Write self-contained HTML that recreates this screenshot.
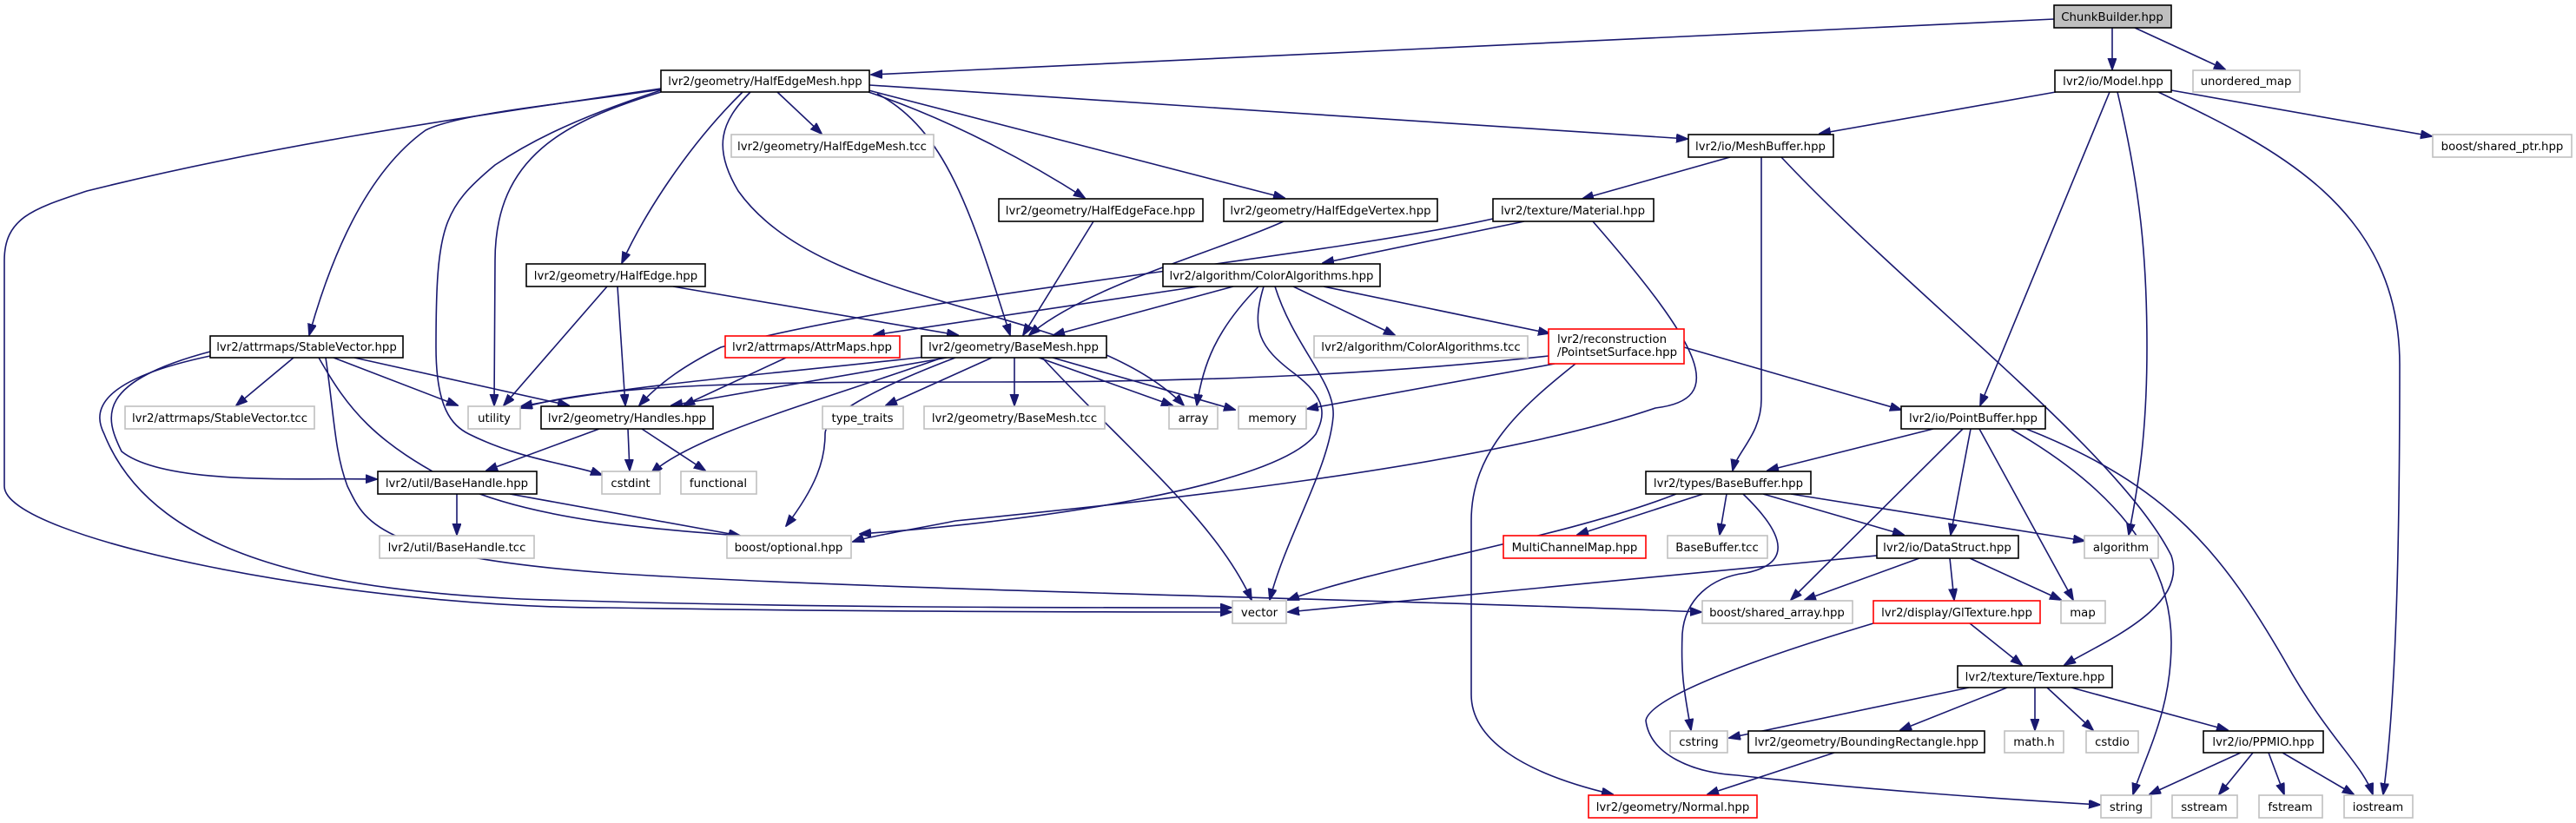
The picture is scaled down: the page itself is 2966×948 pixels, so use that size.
<!DOCTYPE html>
<html><head><meta charset="utf-8"><style>
html,body{margin:0;padding:0;background:#fff;}
svg{display:block;}
text{font-family:"DejaVu Sans","Liberation Sans",sans-serif;font-size:13.3px;fill:#000;}
.e{fill:none;stroke:#191970;stroke-width:1.6;}
.n{fill:#fff;stroke:#000;stroke-width:1.6;}
.g{fill:#fff;stroke:#bfbfbf;stroke-width:1.6;}
.r{fill:#fff;stroke:#ff0000;stroke-width:1.6;}
</style></head><body>
<svg width="2966" height="948" viewBox="0 0 2966 948" xmlns="http://www.w3.org/2000/svg">
<defs><marker id="a" markerUnits="userSpaceOnUse" markerWidth="14" markerHeight="11" refX="13" refY="5" orient="auto"><path d="M0,0 L14,5 L0,10 z" fill="#191970" stroke="#191970"/></marker></defs>
<g class="e" marker-end="url(#a)">
<path d="M2365,22 L1003,86"/>
<path d="M2432,32 L2432,80"/>
<path d="M2458,32 L2562,80"/>
<path d="M2367,106 L2095,154"/>
<path d="M2429,106 L2280,467"/>
<path d="M2438,106 C2465,220 2472,300 2472,400 C2472,500 2462,560 2451,616"/>
<path d="M2485,106 C2620,170 2763,240 2763,420 C2763,600 2760,800 2744,915"/>
<path d="M2500,104 L2800,157"/>
<path d="M1992,181 L1822,229"/>
<path d="M2028,181 C2028,300 2028,430 2028,460 C2028,500 2000,520 1995,542"/>
<path d="M2051,181 C2200,340 2440,520 2500,640 C2520,700 2420,740 2377,766"/>
<path d="M1001,98 L1943,160"/>
<path d="M895,106 L946,154"/>
<path d="M1000,106 C1100,140 1190,190 1249,228"/>
<path d="M1000,104 L1479,228"/>
<path d="M1010,108 C1090,150 1120,250 1163,386"/>
<path d="M864,106 C830,140 820,170 850,220 C950,360 1250,350 1363,467"/>
<path d="M855,106 C790,170 740,250 716,303"/>
<path d="M761,103 C650,120 530,130 490,150 C420,200 380,300 356,386"/>
<path d="M761,106 C650,140 570,180 570,300 L569,467"/>
<path d="M761,104 C650,140 600,170 570,190 C510,240 502,260 502,400 C502,470 520,490 540,500 C600,530 660,535 693,547"/>
<path d="M761,102 C500,140 300,170 100,220 C40,240 5,250 5,300 L5,560 C5,620 400,700 700,700 C1000,705 1300,705 1418,705"/>
<path d="M699,330 L580,467"/>
<path d="M711,330 L720,467"/>
<path d="M775,330 L1103,386"/>
<path d="M1259,255 L1178,386"/>
<path d="M1478,255 C1400,290 1250,330 1185,386"/>
<path d="M1719,252 C1500,300 1050,340 830,400 C790,420 760,440 736,467"/>
<path d="M1755,255 L1523,303"/>
<path d="M1834,255 C1960,400 1990,460 1906,470 C1700,540 1300,580 1100,600 C1050,610 1000,618 982,624"/>
<path d="M1380,330 L1006,386"/>
<path d="M1420,330 L1213,386"/>
<path d="M1449,330 C1400,380 1385,420 1378,467"/>
<path d="M1455,330 C1440,380 1450,400 1490,430 C1530,460 1525,480 1515,500 C1470,560 1200,600 990,615"/>
<path d="M1468,330 C1490,400 1538,440 1535,480 C1530,540 1480,620 1462,691"/>
<path d="M1489,330 L1606,386"/>
<path d="M1524,330 L1784,384"/>
<path d="M1783,410 C1600,430 1400,440 1150,440 C900,440 700,440 600,470"/>
<path d="M1790,419 L1505,471"/>
<path d="M1939,400 L2189,472"/>
<path d="M1814,419 C1750,470 1694,520 1694,600 L1694,800 C1694,850 1750,890 1857,915"/>
<path d="M1090,412 L773,467"/>
<path d="M1075,410 C900,430 750,440 600,468"/>
<path d="M1100,412 C1000,450 950,480 950,500 C950,530 940,560 905,606"/>
<path d="M1085,412 C950,460 800,500 750,545"/>
<path d="M1142,412 L1020,467"/>
<path d="M1168,412 L1168,467"/>
<path d="M1196,412 L1350,467"/>
<path d="M1212,412 L1422,472"/>
<path d="M1200,412 C1300,520 1400,600 1441,691"/>
<path d="M905,412 L787,467"/>
<path d="M338,412 L272,467"/>
<path d="M384,412 L527,467"/>
<path d="M408,412 L655,467"/>
<path d="M242,405 C110,440 120,480 140,520 C190,560 350,550 434,552"/>
<path d="M367,412 C400,470 430,510 530,560 C620,600 760,610 852,617"/>
<path d="M242,410 C100,440 110,480 120,500 C180,650 400,680 600,690 C900,700 1200,700 1418,700"/>
<path d="M375,412 C385,480 385,520 400,560 C420,600 430,640 700,660 C1000,680 1600,690 1959,705"/>
<path d="M690,494 L560,542"/>
<path d="M723,494 L725,542"/>
<path d="M739,494 L812,542"/>
<path d="M526,569 L526,616"/>
<path d="M587,569 L852,617"/>
<path d="M2226,494 L2035,542"/>
<path d="M2260,494 L2062,691"/>
<path d="M2269,494 L2246,616"/>
<path d="M2279,494 L2387,691"/>
<path d="M2315,494 C2430,560 2500,640 2500,740 C2500,820 2470,870 2456,915"/>
<path d="M2333,494 C2500,560 2560,640 2630,760 C2680,850 2720,880 2732,915"/>
<path d="M1988,569 L1980,616"/>
<path d="M1961,569 L1816,616"/>
<path d="M2030,569 L2192,616"/>
<path d="M2062,569 L2400,623"/>
<path d="M1930,569 C1800,620 1600,650 1483,691"/>
<path d="M2007,569 C2060,620 2060,650 2010,660 C1970,665 1940,690 1937,730 C1935,780 1940,800 1947,841"/>
<path d="M2161,640 L1483,705"/>
<path d="M2210,643 L2078,691"/>
<path d="M2245,643 L2250,691"/>
<path d="M2268,643 L2373,691"/>
<path d="M2268,718 L2328,766"/>
<path d="M2157,718 C2050,750 1900,800 1895,830 C1900,870 1950,890 2000,893 C2150,910 2300,920 2418,927"/>
<path d="M2267,792 L1991,850"/>
<path d="M2311,792 L2188,841"/>
<path d="M2343,792 L2343,841"/>
<path d="M2357,792 L2410,841"/>
<path d="M2385,792 L2565,841"/>
<path d="M2112,867 L1966,915"/>
<path d="M2580,867 L2475,915"/>
<path d="M2594,867 L2555,915"/>
<path d="M2612,867 L2630,915"/>
<path d="M2628,867 L2710,915"/>
</g>
<g>
<rect x="2365" y="6" width="135" height="26" fill="#bfbfbf" stroke="#000" stroke-width="1.6"/><text x="2432" y="24" text-anchor="middle">ChunkBuilder.hpp</text>
<rect class="n" x="2366" y="81" width="134" height="25"/><text x="2433" y="98" text-anchor="middle">lvr2/io/Model.hpp</text>
<rect class="g" x="2525" y="81" width="123" height="25"/><text x="2586" y="98" text-anchor="middle">unordered_map</text>
<rect class="n" x="761" y="81" width="240" height="25"/><text x="881" y="98" text-anchor="middle">lvr2/geometry/HalfEdgeMesh.hpp</text>
<rect class="g" x="842" y="155" width="233" height="26"/><text x="958" y="173" text-anchor="middle">lvr2/geometry/HalfEdgeMesh.tcc</text>
<rect class="n" x="1944" y="155" width="167" height="26"/><text x="2027" y="173" text-anchor="middle">lvr2/io/MeshBuffer.hpp</text>
<rect class="g" x="2801" y="155" width="160" height="26"/><text x="2881" y="173" text-anchor="middle">boost/shared_ptr.hpp</text>
<rect class="n" x="1150" y="229" width="235" height="26"/><text x="1267" y="247" text-anchor="middle">lvr2/geometry/HalfEdgeFace.hpp</text>
<rect class="n" x="1409" y="229" width="246" height="26"/><text x="1532" y="247" text-anchor="middle">lvr2/geometry/HalfEdgeVertex.hpp</text>
<rect class="n" x="1719" y="229" width="185" height="26"/><text x="1811" y="247" text-anchor="middle">lvr2/texture/Material.hpp</text>
<rect class="n" x="606" y="304" width="206" height="26"/><text x="709" y="322" text-anchor="middle">lvr2/geometry/HalfEdge.hpp</text>
<rect class="n" x="1339" y="304" width="250" height="26"/><text x="1464" y="322" text-anchor="middle">lvr2/algorithm/ColorAlgorithms.hpp</text>
<rect class="n" x="242" y="387" width="222" height="25"/><text x="353" y="404" text-anchor="middle">lvr2/attrmaps/StableVector.hpp</text>
<rect class="r" x="835" y="387" width="201" height="25"/><text x="935" y="404" text-anchor="middle">lvr2/attrmaps/AttrMaps.hpp</text>
<rect class="n" x="1061" y="387" width="213" height="25"/><text x="1167" y="404" text-anchor="middle">lvr2/geometry/BaseMesh.hpp</text>
<rect class="g" x="1513" y="387" width="246" height="25"/><text x="1636" y="404" text-anchor="middle">lvr2/algorithm/ColorAlgorithms.tcc</text>
<rect class="r" x="1783" y="379" width="156" height="40"/><text x="1793" y="395">lvr2/reconstruction</text><text x="1793" y="410">/PointsetSurface.hpp</text>
<rect class="n" x="2189" y="468" width="166" height="26"/><text x="2272" y="486" text-anchor="middle">lvr2/io/PointBuffer.hpp</text>
<rect class="g" x="144" y="468" width="218" height="26"/><text x="253" y="486" text-anchor="middle">lvr2/attrmaps/StableVector.tcc</text>
<rect class="g" x="539" y="468" width="60" height="26"/><text x="569" y="486" text-anchor="middle">utility</text>
<rect class="n" x="623" y="468" width="198" height="26"/><text x="722" y="486" text-anchor="middle">lvr2/geometry/Handles.hpp</text>
<rect class="g" x="947" y="468" width="93" height="26"/><text x="993" y="486" text-anchor="middle">type_traits</text>
<rect class="g" x="1064" y="468" width="208" height="26"/><text x="1168" y="486" text-anchor="middle">lvr2/geometry/BaseMesh.tcc</text>
<rect class="g" x="1346" y="468" width="56" height="26"/><text x="1374" y="486" text-anchor="middle">array</text>
<rect class="g" x="1426" y="468" width="78" height="26"/><text x="1465" y="486" text-anchor="middle">memory</text>
<rect class="n" x="435" y="543" width="183" height="26"/><text x="526" y="561" text-anchor="middle">lvr2/util/BaseHandle.hpp</text>
<rect class="g" x="693" y="543" width="67" height="26"/><text x="726" y="561" text-anchor="middle">cstdint</text>
<rect class="g" x="784" y="543" width="87" height="26"/><text x="827" y="561" text-anchor="middle">functional</text>
<rect class="n" x="1895" y="543" width="190" height="26"/><text x="1990" y="561" text-anchor="middle">lvr2/types/BaseBuffer.hpp</text>
<rect class="n" x="2161" y="617" width="163" height="26"/><text x="2242" y="635" text-anchor="middle">lvr2/io/DataStruct.hpp</text>
<rect class="g" x="2400" y="617" width="85" height="26"/><text x="2442" y="635" text-anchor="middle">algorithm</text>
<rect class="g" x="1920" y="617" width="115" height="26"/><text x="1977" y="635" text-anchor="middle">BaseBuffer.tcc</text>
<rect class="r" x="1731" y="617" width="164" height="26"/><text x="1813" y="635" text-anchor="middle">MultiChannelMap.hpp</text>
<rect class="g" x="437" y="617" width="178" height="26"/><text x="526" y="635" text-anchor="middle">lvr2/util/BaseHandle.tcc</text>
<rect class="g" x="837" y="617" width="143" height="26"/><text x="908" y="635" text-anchor="middle">boost/optional.hpp</text>
<rect class="g" x="1419" y="692" width="62" height="26"/><text x="1450" y="710" text-anchor="middle">vector</text>
<rect class="g" x="1960" y="692" width="173" height="26"/><text x="2046" y="710" text-anchor="middle">boost/shared_array.hpp</text>
<rect class="r" x="2157" y="692" width="192" height="26"/><text x="2253" y="710" text-anchor="middle">lvr2/display/GlTexture.hpp</text>
<rect class="g" x="2373" y="692" width="51" height="26"/><text x="2398" y="710" text-anchor="middle">map</text>
<rect class="n" x="2254" y="767" width="178" height="25"/><text x="2343" y="784" text-anchor="middle">lvr2/texture/Texture.hpp</text>
<rect class="g" x="1923" y="842" width="66" height="25"/><text x="1956" y="859" text-anchor="middle">cstring</text>
<rect class="n" x="2013" y="842" width="272" height="25"/><text x="2149" y="859" text-anchor="middle">lvr2/geometry/BoundingRectangle.hpp</text>
<rect class="g" x="2308" y="842" width="68" height="25"/><text x="2342" y="859" text-anchor="middle">math.h</text>
<rect class="g" x="2402" y="842" width="60" height="25"/><text x="2432" y="859" text-anchor="middle">cstdio</text>
<rect class="n" x="2537" y="842" width="138" height="25"/><text x="2606" y="859" text-anchor="middle">lvr2/io/PPMIO.hpp</text>
<rect class="r" x="1829" y="916" width="194" height="26"/><text x="1926" y="934" text-anchor="middle">lvr2/geometry/Normal.hpp</text>
<rect class="g" x="2419" y="916" width="58" height="26"/><text x="2448" y="934" text-anchor="middle">string</text>
<rect class="g" x="2501" y="916" width="75" height="26"/><text x="2538" y="934" text-anchor="middle">sstream</text>
<rect class="g" x="2601" y="916" width="73" height="26"/><text x="2637" y="934" text-anchor="middle">fstream</text>
<rect class="g" x="2699" y="916" width="79" height="26"/><text x="2738" y="934" text-anchor="middle">iostream</text>
</g>
</svg>
</body></html>
